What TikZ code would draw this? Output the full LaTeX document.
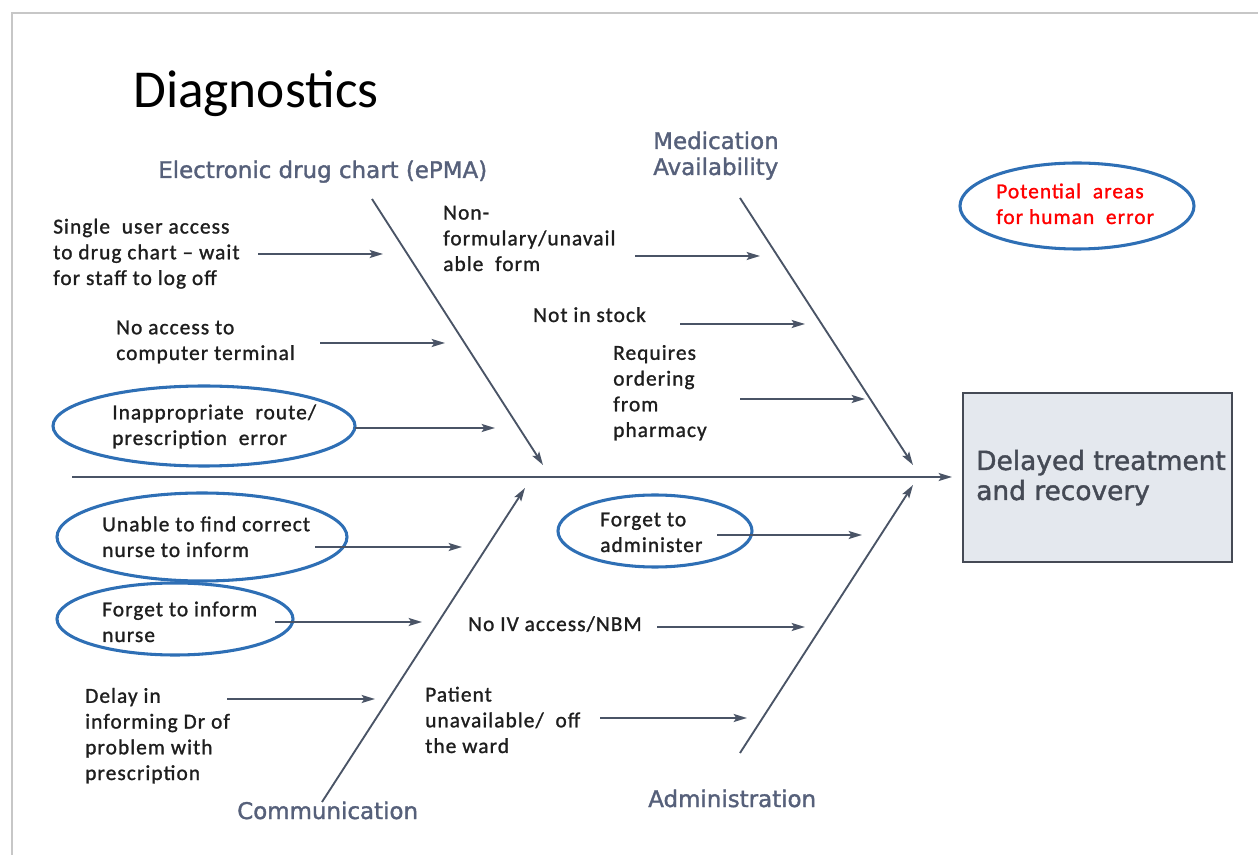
\documentclass[tikz,border=0pt]{standalone}
\usepackage{fontspec}
\setmainfont{Carlito}
\newfontfamily\causefont[LetterSpace=5,FakeBold=1.2]{Carlito}
\newfontfamily\catfont[FakeBold=1.5]{DejaVu Sans}
\usetikzlibrary{arrows.meta}

\definecolor{bonegray}{HTML}{4A5466}
\definecolor{catgray}{HTML}{56607A}
\definecolor{ringblue}{HTML}{2E6FB5}
\definecolor{boxfill}{HTML}{E4E8EE}
\definecolor{boxline}{HTML}{454A55}
\definecolor{causeblack}{HTML}{1E1E1E}

\begin{document}
\begin{tikzpicture}[x=0.75pt,y=-0.75pt,
		bone/.style={draw=bonegray, line width=1.4pt, -{Stealth[length=10pt,width=6pt,inset=2pt]}},
		twig/.style={bone},
		cause/.style={font=\causefont\fontsize{16}{19.3}\selectfont, text=causeblack, align=left, anchor=base west, inner sep=0pt},
		category/.style={font=\catfont\fontsize{17.2}{19.5}\selectfont, text=catgray, align=left, anchor=base west, inner sep=0pt},
		ring/.style={draw=ringblue, line width=2.3pt}]
%		\draw[help lines] (0,0) grid[step=50] (1258,855);
		\useasboundingbox (0,0) rectangle (1258,855);
		\draw[black!22, line width=2pt] (12,855) -- (12,13) -- (1258,13);

		% node positions are the baseline of the last text line
		\node[font=\fontsize{40}{42}\selectfont, anchor=base west, inner sep=0pt] (title) at (133,108) {Diagnostics};

		% spine and effect
		\node[draw=boxline, fill=boxfill, line width=1.5pt, minimum width=201.75pt, minimum height=126.75pt, anchor=north west] (effect) at (962,392) {};
		\node[font=\catfont\fontsize{19.8}{22.5}\selectfont, text=boxline, align=left, anchor=base west, inner sep=0pt] (effectlabel) at (976,500) {Delayed treatment\\and recovery};
		\coordinate (tail) at (72,477); \coordinate (head) at (952,477);
		\draw[bone] (tail) -- (head);

		\draw[ring] (1077,206) ellipse [x radius=117, y radius=43];
		\node[cause, text=red] (legend) at (996,224) {Potential\ \ areas\\for human\ \ error};

		% Electronic drug chart
		\node[category] (epma) at (158,178) {Electronic drug chart (ePMA)};
		\coordinate (epma-top) at (372,199); \coordinate (epma-tip) at (543,465);
		\draw[bone] (epma-top) -- (epma-tip);

		\node[cause] (single) at (53,285) {Single\ \ user access\\to drug chart – wait\\for staff to log off};
		\coordinate (single-a) at (258,254); \coordinate (single-b) at (383,254);
		\draw[twig] (single-a) -- (single-b);

		\node[cause] (noaccess) at (116,360) {No access to\\computer terminal};
		\coordinate (noaccess-a) at (320,343); \coordinate (noaccess-b) at (445,343);
		\draw[twig] (noaccess-a) -- (noaccess-b);

		\draw[ring] (204,426) ellipse [x radius=151, y radius=40];
		\node[cause] (route) at (112,445) {Inappropriate\ \ route/\\prescription\ \ error};
		\coordinate (route-a) at (355,428); \coordinate (route-b) at (495,428);
		\draw[twig] (route-a) -- (route-b);

		% Medication availability
		\node[category] (medication) at (653,175) {Medication\\Availability};
		\coordinate (med-top) at (740,198); \coordinate (med-tip) at (913,465);
		\draw[bone] (med-top) -- (med-tip);

		\node[cause] (nonform) at (443,271) {Non-\\formulary/unavail\\able\ \ form};
		\coordinate (nonform-a) at (635,256); \coordinate (nonform-b) at (760,256);
		\draw[twig] (nonform-a) -- (nonform-b);

		\node[cause] (stock) at (533,322) {Not in stock};
		\coordinate (stock-a) at (680,324); \coordinate (stock-b) at (805,324);
		\draw[twig] (stock-a) -- (stock-b);

		\node[cause] (ordering) at (613,437) {Requires\\ordering\\from\\pharmacy};
		\coordinate (ordering-a) at (740,399); \coordinate (ordering-b) at (865,399);
		\draw[twig] (ordering-a) -- (ordering-b);

		% Communication
		\node[category] (communication) at (237,819) {Communication};
		\coordinate (comm-foot) at (322,802); \coordinate (comm-tip) at (525,488);
		\draw[bone] (comm-foot) -- (comm-tip);

		\draw[ring] (202,537) ellipse [x radius=145, y radius=44];
		\node[cause] (findnurse) at (102,557) {Unable to find correct\\nurse to inform};
		\coordinate (findnurse-a) at (315,547); \coordinate (findnurse-b) at (462,547);
		\draw[twig] (findnurse-a) -- (findnurse-b);

		\draw[ring] (175,619) ellipse [x radius=118, y radius=36];
		\node[cause] (informnurse) at (102,642) {Forget to inform\\nurse};
		\coordinate (informnurse-a) at (275,622); \coordinate (informnurse-b) at (422,622);
		\draw[twig] (informnurse-a) -- (informnurse-b);

		\node[cause] (delay) at (85,780) {Delay in\\informing Dr of\\problem with\\prescription};
		\coordinate (delay-a) at (227,699); \coordinate (delay-b) at (375,699);
		\draw[twig] (delay-a) -- (delay-b);

		% Administration
		\node[category] (administration) at (648,807) {Administration};
		\coordinate (admin-foot) at (740,753); \coordinate (admin-tip) at (913,485);
		\draw[bone] (admin-foot) -- (admin-tip);

		\draw[ring] (655,531) ellipse [x radius=97, y radius=36];
		\node[cause] (administer) at (600,552) {Forget to\\administer};
		\coordinate (administer-a) at (717,535); \coordinate (administer-b) at (862,535);
		\draw[twig] (administer-a) -- (administer-b);

		\node[cause] (ivaccess) at (468,631) {No IV access/NBM};
		\coordinate (ivaccess-a) at (657,627); \coordinate (ivaccess-b) at (805,627);
		\draw[twig] (ivaccess-a) -- (ivaccess-b);

		\node[cause] (offward) at (425,753) {Patient\\unavailable/\ \ off\\the ward};
		\coordinate (offward-a) at (600,718); \coordinate (offward-b) at (747,718);
		\draw[twig] (offward-a) -- (offward-b);
	\end{tikzpicture}
\end{document}
